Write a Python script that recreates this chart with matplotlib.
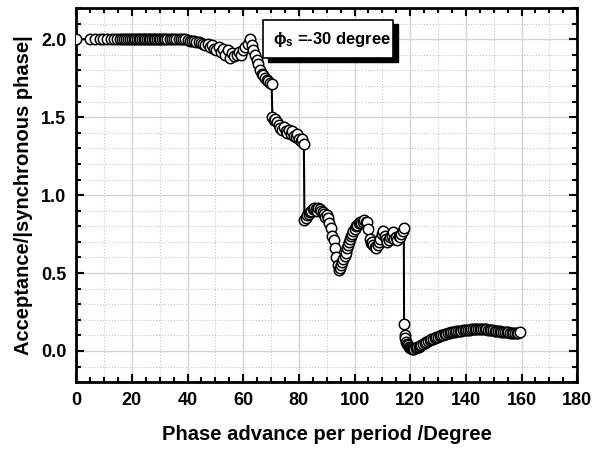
import numpy as np
import matplotlib.pyplot as plt
from matplotlib.ticker import MultipleLocator
from matplotlib.patches import Rectangle

plt.rcParams['font.family'] = ['Liberation Sans', 'DejaVu Sans']
plt.rcParams['font.weight'] = 'bold'
plt.rcParams['mathtext.fontset'] = 'custom'
plt.rcParams['mathtext.rm'] = 'Liberation Sans:bold'
plt.rcParams['mathtext.it'] = 'Liberation Sans:bold'

# flat part, acceptance = 2
flat_x = [0, 5.0, 6.8, 8.4, 9.8, 11.2, 12.5, 13.7, 14.7, 15.6,
          16.4, 17.2, 17.9, 18.6, 19.3, 20.0, 20.6, 21.2, 21.8, 22.4,
          23.0, 23.6, 24.2, 24.8, 25.4, 26.0, 26.6, 27.2, 27.8, 28.4,
          29.0, 29.6, 30.2, 30.8, 31.4, 32.0, 32.8, 33.6, 34.4, 35.2,
          36.0, 36.8, 37.6, 38.4, 39.2, 40.0, 40.8]
flat_y = [2.0, 2.0, 2.0, 2.0, 2.0, 2.0, 2.0, 2.0, 2.0, 2.0,
          2.0, 2.0, 2.0, 2.0, 2.0, 2.0, 2.0, 2.0, 2.0, 2.0,
          2.0, 2.0, 2.0, 2.0, 2.0, 2.0, 2.0, 2.0, 2.0, 2.0,
          2.0, 2.0, 2.0, 2.0, 2.0, 2.0, 2.0, 2.0, 2.0, 2.0,
          2.0, 2.0, 2.0, 2.0, 2.0, 1.995, 1.99]

# first dip and recovery
dip_x = [41.6, 42.4, 43.2, 44.0, 44.8, 45.6, 46.4, 47.2, 48.0, 48.8,
         49.6, 50.4, 51.2, 52.0, 52.8, 53.6, 54.4, 55.2, 56.0, 56.8,
         57.6, 58.4, 59.2, 60.0, 60.8, 61.6, 62.4, 63.0]
dip_y = [1.99, 1.99, 1.985, 1.98, 1.975, 1.97, 1.96, 1.97, 1.95, 1.96,
         1.94, 1.93, 1.95, 1.92, 1.94, 1.90, 1.93, 1.88, 1.91, 1.89,
         1.90, 1.92, 1.90, 1.93, 1.95, 1.97, 2.0, 1.96]

fall_x = [63.6, 64.2, 64.8, 65.4, 66.0, 66.6, 67.2, 67.8, 68.4, 69.0, 69.6, 70.2]
fall_y = [1.93, 1.90, 1.87, 1.84, 1.80, 1.78, 1.77, 1.75, 1.74, 1.73, 1.72, 1.71]

step1_x = [70.5, 71.0, 71.6, 72.2, 72.8, 73.4, 74.0, 74.6, 75.2, 75.8,
           76.4, 77.0, 77.6, 78.2, 78.8, 79.4, 80.0, 80.6, 81.2, 81.8]
step1_y = [1.50, 1.48, 1.49, 1.47, 1.45, 1.43, 1.42, 1.44, 1.41, 1.40,
           1.42, 1.39, 1.41, 1.38, 1.37, 1.39, 1.36, 1.35, 1.36, 1.33]

step2_x = [82.0, 82.5, 83.0, 83.5, 84.0, 84.5, 85.0, 85.5, 86.0, 86.5,
           87.0, 87.5, 88.0, 88.5, 89.0, 89.5, 90.0, 90.5, 91.0, 91.5,
           92.0, 92.5, 93.0, 93.5, 94.0, 94.4]
step2_y = [0.84, 0.85, 0.87, 0.88, 0.89, 0.90, 0.91, 0.92, 0.91, 0.90,
           0.92, 0.91, 0.90, 0.89, 0.88, 0.86, 0.87, 0.85, 0.82, 0.79,
           0.74, 0.71, 0.66, 0.60, 0.55, 0.52]

rise_x = [94.8, 95.2, 95.6, 96.0, 96.4, 96.8, 97.2, 97.6, 98.0, 98.4,
          98.8, 99.2, 99.6, 100.0, 100.5, 101.0, 101.5, 102.0, 102.5, 103.0,
          103.5, 104.0, 104.5]
rise_y = [0.53, 0.55, 0.57, 0.59, 0.61, 0.63, 0.66, 0.68, 0.70, 0.72,
          0.74, 0.75, 0.77, 0.78, 0.80, 0.81, 0.82, 0.83, 0.82, 0.83,
          0.84, 0.83, 0.83]

wobble_x = [105.0, 105.4, 105.8, 106.3, 106.8, 107.3, 107.8, 108.3, 108.8, 109.3,
            109.8, 110.3, 110.8, 111.3, 111.8, 112.3, 112.8, 113.3, 113.8, 114.3,
            114.8, 115.3, 115.8, 116.3, 116.8, 117.3, 117.7]
wobble_y = [0.78, 0.72, 0.69, 0.70, 0.68, 0.67, 0.66, 0.68, 0.70, 0.72,
            0.75, 0.77, 0.74, 0.72, 0.70, 0.71, 0.73, 0.74, 0.76, 0.72,
            0.73, 0.71, 0.74, 0.73, 0.75, 0.77, 0.79]

tail_x = [117.8, 118.0, 118.3, 118.6, 118.9, 119.2, 119.5, 119.9, 120.3, 120.7,
          121.1, 121.5, 122.0, 122.5, 123.0, 123.5, 124.0, 124.6, 125.2, 125.8,
          126.4, 127.0, 127.6, 128.2, 128.8, 129.4, 130.0, 130.6, 131.2, 131.8,
          132.4, 133.0, 133.6, 134.2, 134.8, 135.4, 136.0, 136.6, 137.2, 137.8,
          138.4, 139.0, 139.6, 140.2, 140.8, 141.4, 142.0, 142.6, 143.2, 143.8,
          144.4, 145.0, 145.6, 146.2, 146.8, 147.4, 148.0, 148.6, 149.2, 149.8,
          150.4, 151.0, 151.6, 152.2, 152.8, 153.4, 154.0, 154.6, 155.2, 155.8,
          156.4, 157.0, 157.6, 158.2, 158.8, 159.6]
tail_y = [0.17, 0.10, 0.08, 0.06, 0.045, 0.035, 0.028, 0.022, 0.018, 0.015,
          0.013, 0.014, 0.018, 0.023, 0.028, 0.034, 0.040, 0.046, 0.052, 0.058,
          0.064, 0.069, 0.074, 0.079, 0.084, 0.088, 0.092, 0.096, 0.100, 0.104,
          0.107, 0.110, 0.113, 0.116, 0.119, 0.121, 0.123, 0.125, 0.127, 0.129,
          0.131, 0.132, 0.134, 0.135, 0.136, 0.137, 0.138, 0.139, 0.140, 0.140,
          0.141, 0.141, 0.140, 0.141, 0.139, 0.138, 0.137, 0.135, 0.134, 0.132,
          0.130, 0.128, 0.127, 0.125, 0.124, 0.122, 0.121, 0.120, 0.119, 0.118,
          0.118, 0.117, 0.117, 0.117, 0.118, 0.119]

phase = np.concatenate([flat_x, dip_x, fall_x, step1_x, step2_x, rise_x, wobble_x, tail_x])
accept = np.concatenate([flat_y, dip_y, fall_y, step1_y, step2_y, rise_y, wobble_y, tail_y])

fig = plt.figure(figsize=(6.0, 4.49), dpi=100)
ax = fig.add_axes([0.127, 0.149, 0.835, 0.833])

ax.plot(phase, accept, '-o', color='black', lw=1.5, ms=7.5,
        mfc='white', mec='black', mew=1.1, zorder=3)

ax.set_xlim(0, 180)
ax.set_ylim(-0.2, 2.2)
ax.xaxis.set_major_locator(MultipleLocator(20))
ax.xaxis.set_minor_locator(MultipleLocator(5))
ax.yaxis.set_major_locator(MultipleLocator(0.5))
ax.yaxis.set_minor_locator(MultipleLocator(0.1))
ax.yaxis.set_major_formatter(plt.FormatStrFormatter('%.1f'))

ax.tick_params(which='both', direction='in', top=True, right=True, width=1.5)
ax.tick_params(which='major', length=6, labelsize=13, pad=7)
ax.tick_params(which='minor', length=3.5)

# grid: solid at major, dotted in between
ax.grid(which='major', color='#d4d4d4', lw=1.0, ls='-', zorder=0)
for gx in np.arange(10, 180, 20):
    ax.axvline(gx, color='#c8c8c8', lw=0.8, ls=':', zorder=0)
for gy in np.arange(-0.1, 2.2, 0.1):
    if abs(gy * 2 - round(gy * 2)) > 1e-6:
        ax.axhline(gy, color='#c8c8c8', lw=0.8, ls=':', zorder=0)

for s in ax.spines.values():
    s.set_linewidth(2.0)

ax.set_xlabel('Phase advance per period /Degree', fontsize=14.5, fontweight='bold', labelpad=12)
ax.set_ylabel('Acceptance/|synchronous phase|', fontsize=14.5, fontweight='bold', labelpad=6)

# label box with drop shadow
ax.add_patch(Rectangle((0.383, 0.856), 0.26, 0.102, transform=ax.transAxes,
                       facecolor='black', edgecolor='black', zorder=5))
ax.add_patch(Rectangle((0.373, 0.866), 0.26, 0.102, transform=ax.transAxes,
                       facecolor='white', edgecolor='black', lw=1.2, zorder=6))
ax.text(0.392, 0.915, r'$\phi_s$ =-30 degree', transform=ax.transAxes,
        fontsize=12, fontweight='bold', va='center', ha='left', zorder=7)

fig.savefig('out.png', dpi=100)
